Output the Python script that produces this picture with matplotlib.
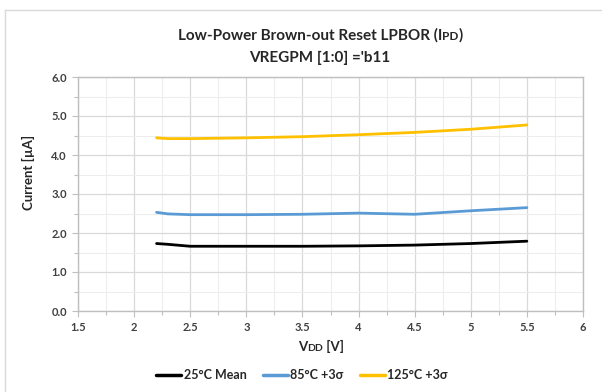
import matplotlib
matplotlib.use("Agg")
import matplotlib.pyplot as plt
from matplotlib.ticker import MultipleLocator, FormatStrFormatter
from matplotlib.lines import Line2D

plt.rcParams['font.family'] = ['Lato', 'DejaVu Sans']
plt.rcParams['font.weight'] = 'bold'

vdd = [2.2, 2.3, 2.5, 3.0, 3.5, 4.0, 4.5, 5.0, 5.5]
i25 = [1.73, 1.71, 1.66, 1.66, 1.66, 1.67, 1.69, 1.73, 1.79]
i85 = [2.53, 2.49, 2.47, 2.47, 2.48, 2.51, 2.48, 2.57, 2.65]
i125 = [4.44, 4.42, 4.42, 4.44, 4.47, 4.52, 4.58, 4.66, 4.77]
series_names = ["25°C Mean", "85°C +3σ", "125°C +3σ"]
colors = ["#000000", "#5b9bd5", "#ffc000"]

W, H = 602, 392
fig = plt.figure(figsize=(W / 100, H / 100), dpi=100)
ax = fig.add_axes([78 / W, 1 - 311 / H, (583 - 78) / W, (311 - 77) / H])

for y, c, n in zip([i25, i85, i125], colors, series_names):
    ax.plot(vdd, y, color=c, lw=2.0, label=n, solid_capstyle='round')

ax.set_xlim(1.5, 6)
ax.set_ylim(0, 6)
ax.xaxis.set_major_locator(MultipleLocator(0.5))
ax.xaxis.set_minor_locator(MultipleLocator(0.25))
ax.yaxis.set_major_locator(MultipleLocator(1.0))
ax.yaxis.set_minor_locator(MultipleLocator(0.5))
ax.yaxis.set_major_formatter(FormatStrFormatter('%.1f'))
ax.xaxis.set_major_formatter(matplotlib.ticker.FuncFormatter(lambda v, p: f"{v:g}"))
ax.grid(which='major', color='#d9d9d9', lw=0.9)
ax.grid(which='minor', color='#ededed', lw=0.8)
ax.set_axisbelow(True)
for s in ax.spines.values():
    s.set_color('#bfbfbf')
    s.set_linewidth(1.0)
ax.tick_params(which='both', color='#bfbfbf', length=4, width=0.8, direction='out')
ax.tick_params(which='minor', length=3)
ax.tick_params(labelsize=8, labelcolor='#404040', pad=4)

fig.text(28 / W, 1 - 172 / H, "Current [µA]", rotation=90, ha='center', va='center',
         fontsize=9.5, fontweight='bold', color='#262626')

def mixed_text(pieces, xc, yc, color='#262626'):
    renderer = fig.canvas.get_renderer()
    texts = []
    for t, s in pieces:
        tx = fig.text(0, 0, t, fontsize=s, fontweight='bold', color=color,
                      ha='left', va='baseline')
        texts.append(tx)
    widths = [tx.get_window_extent(renderer).width for tx in texts]
    total = sum(widths)
    x = xc - total / 2
    for tx, w in zip(texts, widths):
        tx.set_position((x / W, 1 - yc / H))
        x += w

mixed_text([("Low-Power Brown-out Reset LPBOR (I", 11), ("PD", 8.5), (")", 11)], 320, 40)
mixed_text([("VREGPM [1:0] ='b11", 11)], 320, 62)
mixed_text([("V", 9.5), ("DD", 7.5), (" [V]", 9.5)], 321, 351)

leg = fig.legend(loc='center', bbox_to_anchor=(302 / W, 1 - 375 / H), ncol=3, frameon=False,
                 handlelength=2.0, handletextpad=0.2, columnspacing=1.3,
                 prop={'weight': 'bold', 'size': 9})
for t in leg.get_texts():
    t.set_color('#262626')
for l in leg.get_lines():
    l.set_linewidth(2.5)

fig.add_artist(Line2D([5 / W, 1], [1 - 10 / H, 1 - 10 / H], color='#d9d9d9', lw=1.0))
fig.add_artist(Line2D([5 / W, 5 / W], [0, 1 - 10 / H], color='#d9d9d9', lw=1.0))

fig.savefig("out.png", dpi=100)
